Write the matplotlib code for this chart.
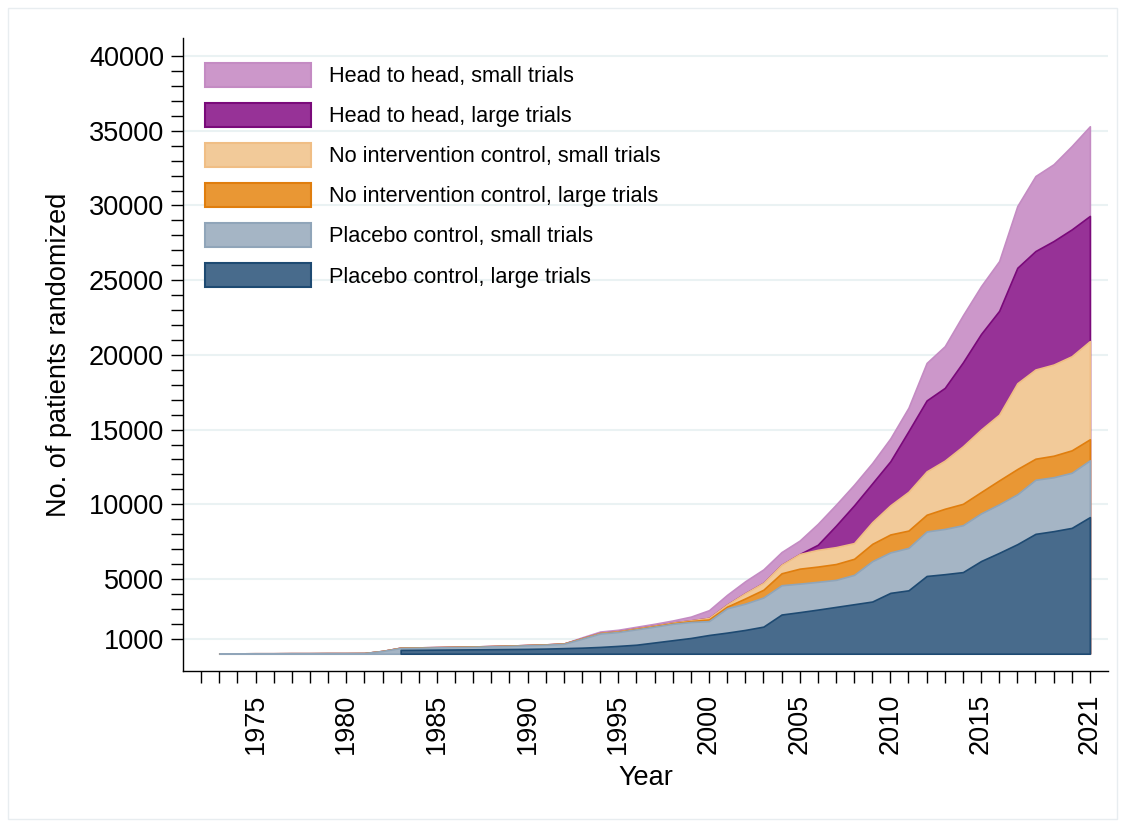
import numpy as np
import matplotlib
matplotlib.use("Agg")
import matplotlib.pyplot as plt
from matplotlib.patches import Patch, Rectangle

plt.rcParams['font.family'] = ['Liberation Sans', 'DejaVu Sans']

nan = np.nan
years = np.arange(1973, 2022)

# Cumulative number of patients randomized, by comparator and trial size
placebo_large = [nan] * 10 + [
    250, 260, 270, 280, 290, 300, 310, 320, 340, 370,
    400, 450, 520, 600, 750, 900, 1050, 1250, 1410, 1590,
    1810, 2620, 2780, 2950, 3130, 3310, 3490, 4070, 4240, 5200,
    5320, 5460, 6200, 6750, 7330, 8020, 8200, 8420, 9140]
placebo_small = [
    20, 20, 25, 25, 30, 30, 35, 35, 40, 180,
    130, 140, 150, 160, 170, 190, 210, 240, 260, 290,
    600, 900, 930, 1030, 1060, 1100, 1070, 930, 1630, 1760,
    1950, 1960, 1910, 1860, 1810, 1965, 2700, 2710, 2840, 2980,
    3030, 3140, 3190, 3250, 3340, 3620, 3610, 3690, 3800]
noint_large = [0] * 10 + [10] * 10 + [
    15, 20, 25, 30, 35, 40, 60, 110, 110, 350,
    520, 800, 1000, 1020, 1060, 1075, 1160, 1200, 1160, 1120,
    1350, 1430, 1430, 1600, 1690, 1410, 1440, 1500, 1410]
noint_small = [0] * 10 + [10] * 10 + [
    15, 20, 25, 30, 35, 40, 50, 100, 140, 350,
    460, 570, 980, 1120, 1130, 1050, 1450, 1950, 2595, 2900,
    3220, 3850, 4180, 4400, 5740, 5970, 6100, 6300, 6570]
h2h_large = [0] * 33 + [
    340, 1440, 2530, 2600, 2950, 4060, 4750,
    4870, 5620, 6400, 6950, 7730, 7930, 8270, 8490, 8380]
h2h_small = [0] * 20 + [
    60, 90, 100, 110, 120, 140, 250, 520, 650, 800,
    900, 850, 900, 1400, 1400, 1380, 1360, 1530, 1570, 2510,
    2790, 3150, 3200, 3330, 4130, 5020, 5140, 5580, 6000]

labels = ["Placebo control, large trials", "Placebo control, small trials",
          "No intervention control, large trials", "No intervention control, small trials",
          "Head to head, large trials", "Head to head, small trials"]
fills = ["#486B8C", "#A5B5C5", "#E99734", "#F2CA99", "#973297", "#CC97CA"]
edges = ["#1E4A72", "#90A5B9", "#E07E0E", "#F0BE85", "#7A0A7A", "#C48BC3"]

series = [placebo_large, placebo_small, noint_large, noint_small, h2h_large, h2h_small]
raw = np.array(series, dtype=float)
cum = np.cumsum(np.nan_to_num(raw), axis=0)

fig = plt.figure(figsize=(11.25, 8.27), dpi=100, facecolor="white")
ax = fig.add_axes([183 / 1125, 1 - 670.7 / 827, (1108 - 183) / 1125, (670.7 - 38.3) / 827])

# Overlaid cumulative areas, each drawn from zero, top layer first
for k in reversed(range(6)):
    mask = ~np.isnan(raw[k]) if k == 0 else np.ones(len(years), bool)
    ax.fill_between(years[mask], 0, cum[k][mask], facecolor=fills[k],
                    edgecolor=edges[k], linewidth=1.2, zorder=3 + (5 - k))

ax.set_xlim(1971, 2022)
ax.set_ylim(-1140, 41190)

ax.set_xticks([1975, 1980, 1985, 1990, 1995, 2000, 2005, 2010, 2015, 2021])
ax.set_xticks(np.arange(1972, 2022), minor=True)
ax.set_yticks([1000, 5000, 10000, 15000, 20000, 25000, 30000, 35000, 40000])
ax.set_yticks(np.arange(2000, 40000, 1000), minor=True)

ax.tick_params(axis="both", which="major", direction="out", length=8.5, width=1.0,
               labelsize=19.5, color="black")
ax.tick_params(axis="both", which="minor", direction="out", length=8.5, width=1.0, color="black")
ax.tick_params(axis="x", which="major", pad=8, labelrotation=90)
ax.tick_params(axis="y", which="major", pad=5)

for s in ["top", "right"]:
    ax.spines[s].set_visible(False)
for s in ["left", "bottom"]:
    ax.spines[s].set_linewidth(1.0)

ax.grid(axis="y", which="major", color="#EAF2F3", linewidth=1.5, zorder=0)
ax.set_axisbelow(True)

ax.set_xlabel("Year", fontsize=19.5, labelpad=8)
ax.set_ylabel("No. of patients randomized", fontsize=19.5, labelpad=12)

handles = [Patch(facecolor=fills[k], edgecolor=edges[k], linewidth=1.5, label=labels[k])
           for k in reversed(range(6))]
fs = 15.7
fs_px = fs * 100 / 72
leg = ax.legend(handles=handles, loc="upper left",
                bbox_to_anchor=(205 / 1125, 1 - 63 / 827), bbox_transform=fig.transFigure,
                frameon=False, fontsize=fs, borderpad=0, borderaxespad=0,
                handlelength=106 / fs_px, handleheight=28 / fs_px,
                labelspacing=16 / fs_px, handletextpad=18 / fs_px)
leg.set_zorder(20)

fig.patches.append(Rectangle((8 / 1125, 8 / 827), 1109 / 1125, 811 / 827,
                             transform=fig.transFigure, fill=False,
                             edgecolor="#E8EDF0", linewidth=1.0))

fig.savefig("out.png", dpi=100, facecolor="white")
